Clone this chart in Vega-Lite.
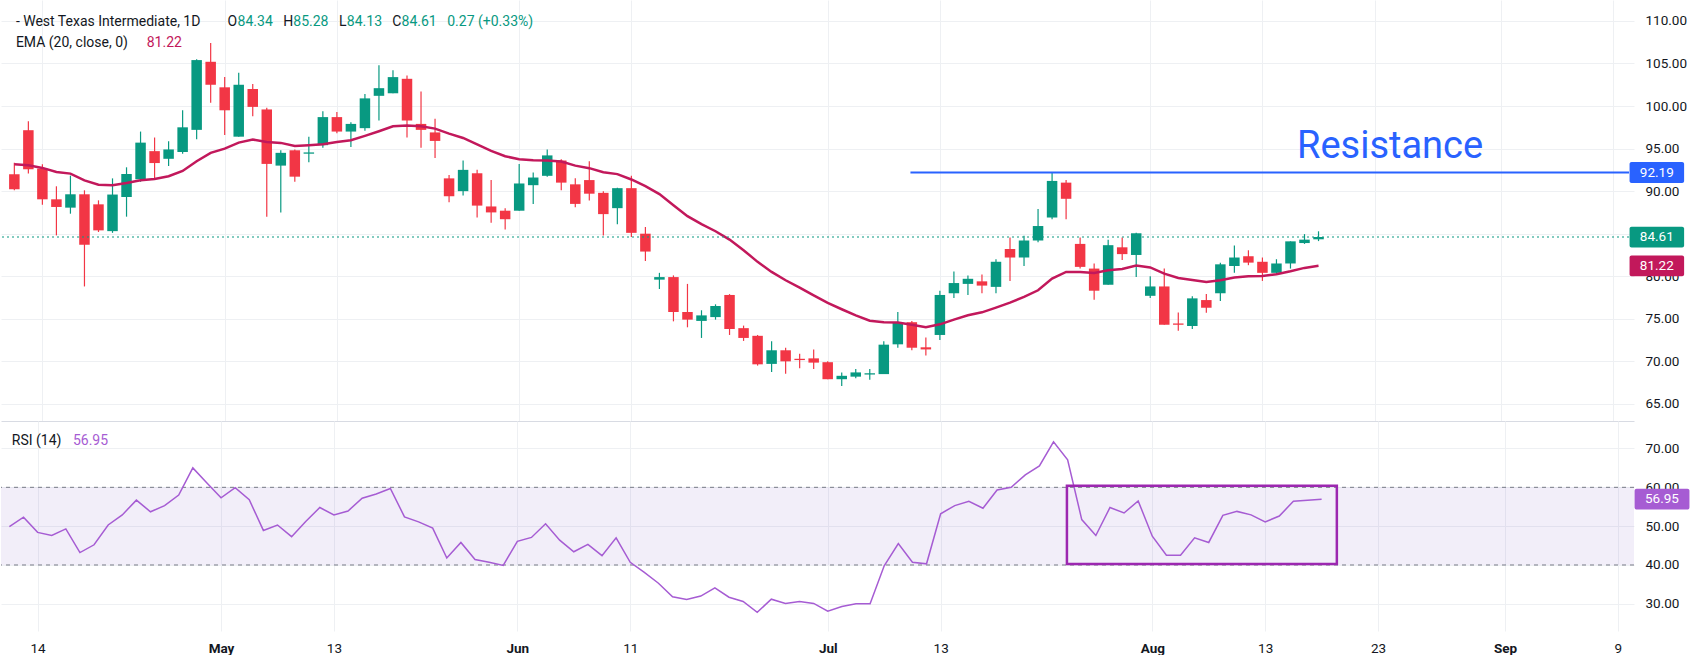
{
  "$schema": "https://vega.github.io/schema/vega-lite/v6.json",
  "padding": 0,
  "background": "#ffffff",
  "spacing": 0,
  "bounds": "flush",
  "config": {
    "view": {"stroke": null},
    "font": "Roboto",
    "axis": {
      "title": null,
      "ticks": false,
      "domain": false,
      "grid": true,
      "gridColor": "#eef0f3",
      "labelColor": "#131722",
      "labelFontSize": 13.5,
      "labelOverlap": false,
      "labelFlush": false
    }
  },
  "datasets": {
    "ohlc": [
      {"i": 0, "o": 91.98, "h": 93.35, "l": 90.1, "c": 90.22, "ema": 93.16, "rsi": 49.9},
      {"i": 1, "o": 97.16, "h": 98.22, "l": 92.06, "c": 92.57, "ema": 93.04, "rsi": 52.3},
      {"i": 2, "o": 92.65, "h": 93.16, "l": 88.41, "c": 89.04, "ema": 92.73, "rsi": 48.4},
      {"i": 3, "o": 89.04, "h": 90.57, "l": 84.8, "c": 88.14, "ema": 92.25, "rsi": 47.6},
      {"i": 4, "o": 88.06, "h": 91.82, "l": 87.35, "c": 89.63, "ema": 92.06, "rsi": 49.3},
      {"i": 5, "o": 89.63, "h": 90.1, "l": 78.8, "c": 83.7, "ema": 91.27, "rsi": 43.2},
      {"i": 6, "o": 88.45, "h": 88.92, "l": 85.2, "c": 85.39, "ema": 90.76, "rsi": 45.2},
      {"i": 7, "o": 85.3, "h": 91.5, "l": 85.1, "c": 89.6, "ema": 90.69, "rsi": 50.3},
      {"i": 8, "o": 89.3, "h": 92.8, "l": 87.0, "c": 92.0, "ema": 90.96, "rsi": 52.9},
      {"i": 9, "o": 91.4, "h": 97.0, "l": 91.1, "c": 95.7, "ema": 91.27, "rsi": 56.7},
      {"i": 10, "o": 94.7, "h": 96.3, "l": 91.5, "c": 93.3, "ema": 91.43, "rsi": 53.7},
      {"i": 11, "o": 93.8, "h": 95.86, "l": 92.96, "c": 94.9, "ema": 91.75, "rsi": 55.3},
      {"i": 12, "o": 94.6, "h": 99.5, "l": 94.4, "c": 97.5, "ema": 92.37, "rsi": 58.0},
      {"i": 13, "o": 97.2, "h": 105.5, "l": 96.1, "c": 105.4, "ema": 93.51, "rsi": 65.0},
      {"i": 14, "o": 105.2, "h": 107.4, "l": 100.4, "c": 102.5, "ema": 94.49, "rsi": 61.1},
      {"i": 15, "o": 102.2, "h": 103.4, "l": 96.6, "c": 99.5, "ema": 95.0, "rsi": 57.3},
      {"i": 16, "o": 96.4, "h": 103.9, "l": 96.4, "c": 102.5, "ema": 95.7, "rsi": 59.9},
      {"i": 17, "o": 102.0, "h": 102.6, "l": 98.8, "c": 99.9, "ema": 96.06, "rsi": 56.8},
      {"i": 18, "o": 99.6, "h": 99.8, "l": 87.0, "c": 93.2, "ema": 95.78, "rsi": 48.9},
      {"i": 19, "o": 93.0, "h": 94.8, "l": 87.5, "c": 94.5, "ema": 95.67, "rsi": 50.3},
      {"i": 20, "o": 94.8, "h": 94.9, "l": 91.1, "c": 91.7, "ema": 95.31, "rsi": 47.3},
      {"i": 21, "o": 94.4, "h": 96.4, "l": 93.4, "c": 94.55, "ema": 95.39, "rsi": 51.2},
      {"i": 22, "o": 95.4, "h": 99.4, "l": 95.1, "c": 98.7, "ema": 95.5, "rsi": 54.8},
      {"i": 23, "o": 98.7, "h": 99.3, "l": 96.8, "c": 97.0, "ema": 95.78, "rsi": 52.9},
      {"i": 24, "o": 97.0, "h": 98.1, "l": 95.2, "c": 97.9, "ema": 95.98, "rsi": 53.9},
      {"i": 25, "o": 97.4, "h": 101.4, "l": 97.1, "c": 100.9, "ema": 96.49, "rsi": 57.2},
      {"i": 26, "o": 101.2, "h": 104.8, "l": 98.3, "c": 102.1, "ema": 97.04, "rsi": 58.3},
      {"i": 27, "o": 101.5, "h": 104.2, "l": 101.5, "c": 103.4, "ema": 97.63, "rsi": 59.7},
      {"i": 28, "o": 103.2, "h": 103.6, "l": 96.3, "c": 98.3, "ema": 97.71, "rsi": 52.4},
      {"i": 29, "o": 97.9, "h": 101.7, "l": 95.1, "c": 97.2, "ema": 97.63, "rsi": 51.1},
      {"i": 30, "o": 96.9, "h": 98.5, "l": 93.9, "c": 95.9, "ema": 97.35, "rsi": 49.5},
      {"i": 31, "o": 91.5, "h": 91.9, "l": 88.7, "c": 89.4, "ema": 96.76, "rsi": 41.8},
      {"i": 32, "o": 90.0, "h": 93.6, "l": 89.5, "c": 92.5, "ema": 96.25, "rsi": 45.8},
      {"i": 33, "o": 92.1, "h": 92.5, "l": 86.9, "c": 88.3, "ema": 95.5, "rsi": 41.4},
      {"i": 34, "o": 88.2, "h": 91.3, "l": 86.3, "c": 87.5, "ema": 94.73, "rsi": 40.7},
      {"i": 35, "o": 87.7, "h": 88.0, "l": 85.5, "c": 86.7, "ema": 94.1, "rsi": 39.9},
      {"i": 36, "o": 87.7, "h": 93.2, "l": 87.7, "c": 90.9, "ema": 93.75, "rsi": 46.1},
      {"i": 37, "o": 90.7, "h": 92.2, "l": 88.5, "c": 91.6, "ema": 93.63, "rsi": 47.1},
      {"i": 38, "o": 91.8, "h": 94.9, "l": 91.7, "c": 94.2, "ema": 93.59, "rsi": 50.6},
      {"i": 39, "o": 93.6, "h": 93.75, "l": 90.1, "c": 91.0, "ema": 93.48, "rsi": 46.4},
      {"i": 40, "o": 90.8, "h": 91.5, "l": 88.1, "c": 88.5, "ema": 93.0, "rsi": 43.4},
      {"i": 41, "o": 91.3, "h": 93.5, "l": 88.9, "c": 89.7, "ema": 92.7, "rsi": 45.3},
      {"i": 42, "o": 89.8, "h": 90.0, "l": 84.8, "c": 87.3, "ema": 92.22, "rsi": 42.4},
      {"i": 43, "o": 88.0, "h": 90.4, "l": 86.1, "c": 90.35, "ema": 92.0, "rsi": 47.0},
      {"i": 44, "o": 90.35, "h": 91.8, "l": 84.6, "c": 85.1, "ema": 91.37, "rsi": 40.7},
      {"i": 45, "o": 85.0, "h": 85.8, "l": 81.8, "c": 82.9, "ema": 90.59, "rsi": 38.1},
      {"i": 46, "o": 79.6, "h": 80.4, "l": 78.5, "c": 79.9, "ema": 89.65, "rsi": 35.3},
      {"i": 47, "o": 79.9, "h": 80.1, "l": 74.7, "c": 75.8, "ema": 88.35, "rsi": 31.8},
      {"i": 48, "o": 75.8, "h": 79.1, "l": 74.0, "c": 74.9, "ema": 87.06, "rsi": 31.1},
      {"i": 49, "o": 74.75, "h": 76.0, "l": 72.75, "c": 75.4, "ema": 86.12, "rsi": 32.0},
      {"i": 50, "o": 75.2, "h": 76.7, "l": 74.9, "c": 76.5, "ema": 85.29, "rsi": 34.1},
      {"i": 51, "o": 77.8, "h": 77.9, "l": 73.1, "c": 73.8, "ema": 84.31, "rsi": 31.7},
      {"i": 52, "o": 73.9, "h": 74.2, "l": 72.4, "c": 72.75, "ema": 83.06, "rsi": 30.6},
      {"i": 53, "o": 73.0, "h": 73.1, "l": 69.5, "c": 69.65, "ema": 81.69, "rsi": 27.8},
      {"i": 54, "o": 69.7, "h": 72.35, "l": 68.75, "c": 71.3, "ema": 80.51, "rsi": 31.2},
      {"i": 55, "o": 71.3, "h": 71.6, "l": 68.55, "c": 70.0, "ema": 79.53, "rsi": 30.1},
      {"i": 56, "o": 70.3, "h": 70.9, "l": 69.2, "c": 70.15, "ema": 78.67, "rsi": 30.6},
      {"i": 57, "o": 70.35, "h": 71.4, "l": 69.1, "c": 69.85, "ema": 77.76, "rsi": 30.1},
      {"i": 58, "o": 69.9, "h": 70.0, "l": 67.9, "c": 67.9, "ema": 76.86, "rsi": 28.1},
      {"i": 59, "o": 67.9, "h": 68.7, "l": 67.1, "c": 68.3, "ema": 76.12, "rsi": 29.3},
      {"i": 60, "o": 68.2, "h": 69.1, "l": 68.0, "c": 68.7, "ema": 75.41, "rsi": 30.0},
      {"i": 61, "o": 68.45, "h": 69.1, "l": 67.85, "c": 68.6, "ema": 74.78, "rsi": 30.0},
      {"i": 62, "o": 68.5, "h": 72.35, "l": 68.5, "c": 71.96, "ema": 74.59, "rsi": 39.8},
      {"i": 63, "o": 72.0, "h": 75.8, "l": 71.6, "c": 74.6, "ema": 74.55, "rsi": 45.5},
      {"i": 64, "o": 74.6, "h": 74.75, "l": 71.3, "c": 71.6, "ema": 74.31, "rsi": 40.7},
      {"i": 65, "o": 71.65, "h": 72.8, "l": 70.7, "c": 71.4, "ema": 74.0, "rsi": 40.3},
      {"i": 66, "o": 73.1, "h": 78.3, "l": 72.5, "c": 77.8, "ema": 74.35, "rsi": 53.2},
      {"i": 67, "o": 78.0, "h": 80.55, "l": 77.45, "c": 79.2, "ema": 74.9, "rsi": 55.3},
      {"i": 68, "o": 79.1, "h": 80.1, "l": 77.8, "c": 79.7, "ema": 75.41, "rsi": 56.4},
      {"i": 69, "o": 79.4, "h": 80.2, "l": 78.0, "c": 78.9, "ema": 75.76, "rsi": 54.6},
      {"i": 70, "o": 78.75, "h": 82.0, "l": 78.0, "c": 81.7, "ema": 76.31, "rsi": 59.3},
      {"i": 71, "o": 83.2, "h": 84.55, "l": 79.45, "c": 82.2, "ema": 76.9, "rsi": 60.0},
      {"i": 72, "o": 82.2, "h": 84.75, "l": 81.2, "c": 84.2, "ema": 77.57, "rsi": 63.2},
      {"i": 73, "o": 84.2, "h": 87.9, "l": 84.0, "c": 85.9, "ema": 78.35, "rsi": 65.5},
      {"i": 74, "o": 86.9, "h": 92.19, "l": 86.7, "c": 91.2, "ema": 79.73, "rsi": 71.7},
      {"i": 75, "o": 91.0, "h": 91.3, "l": 86.7, "c": 89.1, "ema": 80.51, "rsi": 67.1},
      {"i": 76, "o": 83.8, "h": 84.55, "l": 80.9, "c": 81.1, "ema": 80.51, "rsi": 51.7},
      {"i": 77, "o": 80.9, "h": 81.5, "l": 77.25, "c": 78.3, "ema": 80.39, "rsi": 47.6},
      {"i": 78, "o": 79.0, "h": 84.3, "l": 79.0, "c": 83.65, "ema": 80.7, "rsi": 54.8},
      {"i": 79, "o": 83.4, "h": 84.55, "l": 81.9, "c": 82.6, "ema": 80.86, "rsi": 53.4},
      {"i": 80, "o": 82.5, "h": 85.1, "l": 79.9, "c": 85.05, "ema": 81.26, "rsi": 56.5},
      {"i": 81, "o": 77.7, "h": 80.0, "l": 77.45, "c": 78.8, "ema": 81.04, "rsi": 47.4},
      {"i": 82, "o": 78.8, "h": 80.9, "l": 74.3, "c": 74.3, "ema": 80.31, "rsi": 42.5},
      {"i": 83, "o": 74.45, "h": 75.75, "l": 73.6, "c": 74.3, "ema": 79.8, "rsi": 42.5},
      {"i": 84, "o": 74.15, "h": 77.65, "l": 73.8, "c": 77.4, "ema": 79.57, "rsi": 47.0},
      {"i": 85, "o": 77.2, "h": 77.9, "l": 75.7, "c": 76.3, "ema": 79.33, "rsi": 45.8},
      {"i": 86, "o": 78.0, "h": 81.6, "l": 77.1, "c": 81.4, "ema": 79.53, "rsi": 52.8},
      {"i": 87, "o": 81.2, "h": 83.6, "l": 80.4, "c": 82.2, "ema": 79.84, "rsi": 53.8},
      {"i": 88, "o": 82.35, "h": 83.05, "l": 81.3, "c": 81.6, "ema": 80.0, "rsi": 52.9},
      {"i": 89, "o": 81.7, "h": 82.2, "l": 79.45, "c": 80.4, "ema": 80.04, "rsi": 51.1},
      {"i": 90, "o": 80.4, "h": 82.0, "l": 80.2, "c": 81.5, "ema": 80.24, "rsi": 52.6},
      {"i": 91, "o": 81.5, "h": 84.1, "l": 80.9, "c": 84.1, "ema": 80.59, "rsi": 56.4},
      {"i": 92, "o": 83.9, "h": 84.95, "l": 83.8, "c": 84.3, "ema": 80.98, "rsi": 56.7},
      {"i": 93, "o": 84.34, "h": 85.28, "l": 84.13, "c": 84.61, "ema": 81.22, "rsi": 56.95}
    ]
  },
  "vconcat": [
    {
      "width": 1633,
      "height": 421,
      "layer": [
        {
          "data": {"name": "ohlc"},
          "mark": {"type": "rule", "strokeWidth": 1.2},
          "encoding": {
            "x": {
              "field": "i",
              "type": "quantitative",
              "scale": {"domain": [-0.595, 115.14], "nice": false, "zero": false},
              "axis": {
                "values": [2, 15, 23, 36, 44, 58, 66, 81, 89, 97, 106, 114],
                "labels": false,
                "domain": true,
                "domainColor": "#d8dbe3"
              }
            },
            "y": {
              "field": "l",
              "type": "quantitative",
              "scale": {"domain": [62.99, 112.46], "nice": false, "zero": false},
              "axis": {
                "orient": "right",
                "values": [65, 70, 75, 80, 85, 90, 95, 100, 105, 110],
                "labelExpr": "datum.value == 85 ? '' : format(datum.value, '.2f')",
                "labelPadding": 11
              }
            },
            "y2": {"field": "h"},
            "color": {"condition": {"test": "datum.c >= datum.o", "value": "#089981"}, "value": "#f23645"}
          }
        },
        {
          "data": {"name": "ohlc"},
          "mark": {"type": "bar", "width": 10.5},
          "encoding": {
            "x": {"field": "i", "type": "quantitative"},
            "y": {"field": "o", "type": "quantitative"},
            "y2": {"field": "c"},
            "color": {"condition": {"test": "datum.c >= datum.o", "value": "#089981"}, "value": "#f23645"}
          }
        },
        {
          "data": {"name": "ohlc"},
          "mark": {"type": "line", "color": "#c2185b", "strokeWidth": 2.5},
          "encoding": {
            "x": {"field": "i", "type": "quantitative"},
            "y": {"field": "ema", "type": "quantitative"}
          }
        },
        {
          "data": {"values": [{}]},
          "mark": {"type": "rule", "color": "#089981", "strokeDash": [2, 3], "strokeWidth": 1},
          "encoding": {"y": {"datum": 84.61}}
        },
        {
          "data": {"values": [{}]},
          "mark": {"type": "rule", "color": "#2962ff", "strokeWidth": 2},
          "encoding": {"x": {"datum": 63.9}, "x2": {"datum": 115.14}, "y": {"datum": 92.19}}
        },
        {
          "data": {"values": [{}]},
          "mark": {"type": "text", "text": "Resistance", "color": "#2962ff", "fontSize": 38, "align": "center", "baseline": "middle"},
          "encoding": {"x": {"datum": 98.1}, "y": {"datum": 95.22}}
        },
        {
          "data": {"values": [{}]},
          "mark": {"type": "text", "text": "- West Texas Intermediate, 1D", "color": "#131722", "fontSize": 14, "align": "left", "baseline": "middle"},
          "encoding": {"x": {"datum": 0.11}, "y": {"datum": 109.91}}
        },
        {
          "data": {"values": [{}]},
          "mark": {"type": "text", "text": "O", "color": "#131722", "fontSize": 14, "align": "left", "baseline": "middle"},
          "encoding": {"x": {"datum": 15.2}, "y": {"datum": 109.91}}
        },
        {
          "data": {"values": [{}]},
          "mark": {"type": "text", "text": "84.34", "color": "#089981", "fontSize": 14, "align": "left", "baseline": "middle"},
          "encoding": {"x": {"datum": 15.92}, "y": {"datum": 109.91}}
        },
        {
          "data": {"values": [{}]},
          "mark": {"type": "text", "text": "H", "color": "#131722", "fontSize": 14, "align": "left", "baseline": "middle"},
          "encoding": {"x": {"datum": 19.18}, "y": {"datum": 109.91}}
        },
        {
          "data": {"values": [{}]},
          "mark": {"type": "text", "text": "85.28", "color": "#089981", "fontSize": 14, "align": "left", "baseline": "middle"},
          "encoding": {"x": {"datum": 19.89}, "y": {"datum": 109.91}}
        },
        {
          "data": {"values": [{}]},
          "mark": {"type": "text", "text": "L", "color": "#131722", "fontSize": 14, "align": "left", "baseline": "middle"},
          "encoding": {"x": {"datum": 23.15}, "y": {"datum": 109.91}}
        },
        {
          "data": {"values": [{}]},
          "mark": {"type": "text", "text": "84.13", "color": "#089981", "fontSize": 14, "align": "left", "baseline": "middle"},
          "encoding": {"x": {"datum": 23.71}, "y": {"datum": 109.91}}
        },
        {
          "data": {"values": [{}]},
          "mark": {"type": "text", "text": "C", "color": "#131722", "fontSize": 14, "align": "left", "baseline": "middle"},
          "encoding": {"x": {"datum": 26.94}, "y": {"datum": 109.91}}
        },
        {
          "data": {"values": [{}]},
          "mark": {"type": "text", "text": "84.61", "color": "#089981", "fontSize": 14, "align": "left", "baseline": "middle"},
          "encoding": {"x": {"datum": 27.61}, "y": {"datum": 109.91}}
        },
        {
          "data": {"values": [{}]},
          "mark": {"type": "text", "text": "0.27 (+0.33%)", "color": "#089981", "fontSize": 14, "align": "left", "baseline": "middle"},
          "encoding": {"x": {"datum": 30.87}, "y": {"datum": 109.91}}
        },
        {
          "data": {"values": [{}]},
          "mark": {"type": "text", "text": "EMA (20, close, 0)", "color": "#131722", "fontSize": 14, "align": "left", "baseline": "middle"},
          "encoding": {"x": {"datum": 0.11}, "y": {"datum": 107.44}}
        },
        {
          "data": {"values": [{}]},
          "mark": {"type": "text", "text": "81.22", "color": "#c2185b", "fontSize": 14, "align": "left", "baseline": "middle"},
          "encoding": {"x": {"datum": 9.44}, "y": {"datum": 107.44}}
        },
        {
          "data": {"values": [{}]},
          "mark": {"type": "rect", "color": "#2962ff", "cornerRadius": 2},
          "encoding": {"x": {"datum": 115.18}, "x2": {"datum": 119.07}, "y": {"datum": 93.41}, "y2": {"datum": 90.97}}
        },
        {
          "data": {"values": [{}]},
          "mark": {"type": "text", "text": "92.19", "color": "#ffffff", "fontSize": 13.5, "align": "center", "baseline": "middle"},
          "encoding": {"x": {"datum": 117.12}, "y": {"datum": 92.19}}
        },
        {
          "data": {"values": [{}]},
          "mark": {"type": "rect", "color": "#089981", "cornerRadius": 2},
          "encoding": {"x": {"datum": 115.18}, "x2": {"datum": 119.07}, "y": {"datum": 85.83}, "y2": {"datum": 83.39}}
        },
        {
          "data": {"values": [{}]},
          "mark": {"type": "text", "text": "84.61", "color": "#ffffff", "fontSize": 13.5, "align": "center", "baseline": "middle"},
          "encoding": {"x": {"datum": 117.12}, "y": {"datum": 84.61}}
        },
        {
          "data": {"values": [{}]},
          "mark": {"type": "rect", "color": "#c2185b", "cornerRadius": 2},
          "encoding": {"x": {"datum": 115.18}, "x2": {"datum": 119.07}, "y": {"datum": 82.44}, "y2": {"datum": 80.0}}
        },
        {
          "data": {"values": [{}]},
          "mark": {"type": "text", "text": "81.22", "color": "#ffffff", "fontSize": 13.5, "align": "center", "baseline": "middle"},
          "encoding": {"x": {"datum": 117.12}, "y": {"datum": 81.22}}
        }
      ]
    },
    {
      "width": 1633,
      "height": 210,
      "layer": [
        {
          "data": {"values": [{}]},
          "mark": {"type": "rect", "color": "#7e57c2", "opacity": 0.1},
          "encoding": {
            "x": {
              "datum": -0.595,
              "type": "quantitative",
              "scale": {"domain": [-0.595, 115.14], "nice": false, "zero": false},
              "axis": {
                "values": [2, 15, 23, 36, 44, 58, 66, 81, 89, 97, 106, 114],
                "labelExpr": "['14','May','13','Jun','11','Jul','13','Aug','13','23','Sep','9'][indexof([2,15,23,36,44,58,66,81,89,97,106,114], datum.value)]",
                "labelFontWeight": {"condition": {"test": "indexof([15,36,58,81,106], datum.value) >= 0", "value": "bold"}, "value": "normal"},
                "labelPadding": 10
              }
            },
            "x2": {"datum": 115.14},
            "y": {
              "datum": 60,
              "type": "quantitative",
              "scale": {"domain": [23.0, 77.08], "nice": false, "zero": false},
              "axis": {
                "orient": "right",
                "values": [30, 40, 50, 60, 70],
                "format": ".2f",
                "labelPadding": 11
              }
            },
            "y2": {"datum": 40}
          }
        },
        {
          "data": {"values": [{"lvl": 60}, {"lvl": 40}]},
          "mark": {"type": "rule", "color": "#787b86", "strokeDash": [4, 4], "strokeWidth": 1},
          "encoding": {"y": {"field": "lvl", "type": "quantitative"}}
        },
        {
          "data": {"name": "ohlc"},
          "mark": {"type": "line", "color": "#a65cd3", "strokeWidth": 1.5},
          "encoding": {
            "x": {"field": "i", "type": "quantitative"},
            "y": {"field": "rsi", "type": "quantitative"}
          }
        },
        {
          "data": {"values": [{}]},
          "mark": {"type": "rect", "filled": false, "stroke": "#9c27b0", "strokeWidth": 2.5},
          "encoding": {"x": {"datum": 74.95}, "x2": {"datum": 94.08}, "y": {"datum": 60.43}, "y2": {"datum": 40.26}}
        },
        {
          "data": {"values": [{}]},
          "mark": {"type": "text", "text": "RSI (14)", "color": "#131722", "fontSize": 14, "align": "left", "baseline": "middle"},
          "encoding": {"x": {"datum": 0.17}, "y": {"datum": 71.85}}
        },
        {
          "data": {"values": [{}]},
          "mark": {"type": "text", "text": "56.95", "color": "#a65cd3", "fontSize": 14, "align": "left", "baseline": "middle"},
          "encoding": {"x": {"datum": 4.5}, "y": {"datum": 71.85}}
        },
        {
          "data": {"values": [{}]},
          "mark": {"type": "rect", "color": "#a65cd3", "cornerRadius": 2},
          "encoding": {"x": {"datum": 115.18}, "x2": {"datum": 119.07}, "y": {"datum": 59.61}, "y2": {"datum": 54.29}}
        },
        {
          "data": {"values": [{}]},
          "mark": {"type": "text", "text": "56.95", "color": "#ffffff", "fontSize": 13.5, "align": "center", "baseline": "middle"},
          "encoding": {"x": {"datum": 117.12}, "y": {"datum": 56.95}}
        }
      ]
    }
  ]
}
